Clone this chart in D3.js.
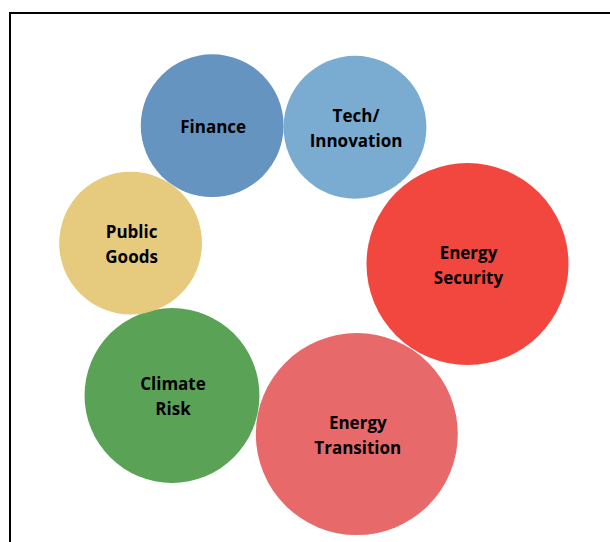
<!DOCTYPE html>
<html>
<head>
<meta charset="utf-8">
<script src="https://cdn.jsdelivr.net/npm/d3@7"></script>
<style>
  html, body { margin: 0; padding: 0; background: #ffffff; }
  svg { display: block; }
</style>
</head>
<body>
<svg id="chart" width="610" height="542"></svg>
<script>
// ---- data ----
const categories = ["Finance", "Tech/ Innovation", "Energy Security", "Energy Transition", "Climate Risk", "Public Goods"];
const labelLines = [["Finance"], ["Tech/", "Innovation"], ["Energy", "Security"], ["Energy", "Transition"], ["Climate", "Risk"], ["Public", "Goods"]];
const xValues = [33.7, 57.5, 76.25, 57.8, 27.0, 20.1];
const yValues = [78.7, 78.4, 52.55, 20.4, 27.7, 56.5];
const sizeValues = [1, 1, 2, 2, 1.5, 1];
const colors = ["#6494bf", "#7aabd1", "#f1473f", "#e7696a", "#5aa356", "#e6cb7e"];

const W = 610, H = 542;
const svg = d3.select("#chart");

const x = d3.scaleLinear().domain([0, 100]).range([10, 610]);
const y = d3.scaleLinear().domain([0, 100]).range([542, 13]);
const r = d3.scaleSqrt().domain([0, 2]).range([0, 101]);

// frame (top and left edges visible)
svg.append("path")
  .attr("d", `M10,${H} V13 H${W}`)
  .attr("fill", "none")
  .attr("stroke", "#000")
  .attr("stroke-width", 2);

const data = categories.map((c, i) => ({
  name: c, lines: labelLines[i], x: xValues[i], y: yValues[i], v: sizeValues[i], color: colors[i]
}));

const g = svg.append("g").selectAll("g").data(data).join("g");

g.append("circle")
  .attr("cx", d => x(d.x))
  .attr("cy", d => y(d.y))
  .attr("r", d => r(d.v))
  .attr("fill", d => d.color);

const lineH = 25;
g.each(function(d) {
  const n = d.lines.length;
  const t = d3.select(this).append("text")
    .attr("text-anchor", "middle")
    .attr("font-family", "'Open Sans', sans-serif")
    .attr("font-weight", "bold")
    .attr("font-size", 17)
    .attr("fill", "#000");
  d.lines.forEach((ln, i) => {
    t.append("tspan")
      .attr("x", x(d.x) + 1)
      .attr("y", y(d.y) + 7.5 + (i - (n - 1) / 2) * lineH)
      .text(ln);
  });
});
</script>
</body>
</html>
